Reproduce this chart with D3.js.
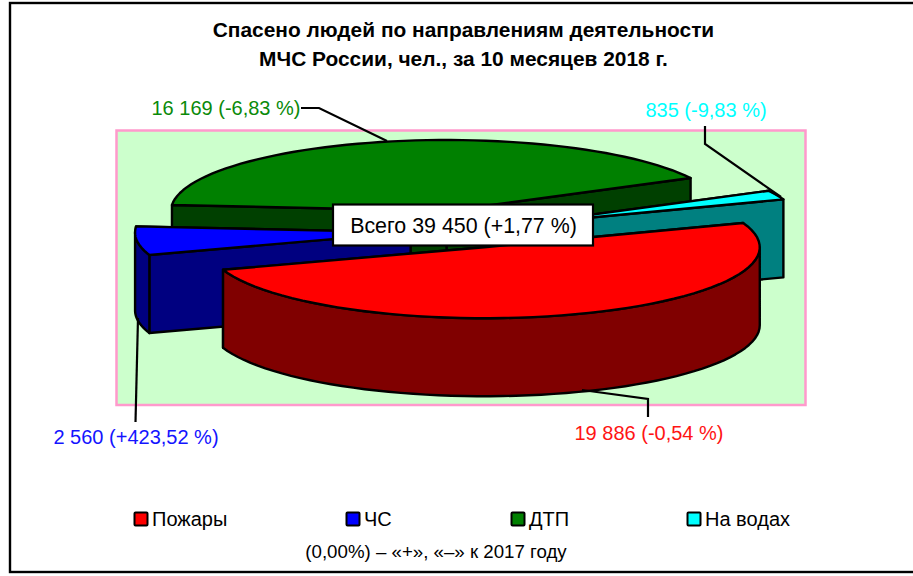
<!DOCTYPE html>
<html><head><meta charset="utf-8">
<script src="https://cdn.jsdelivr.net/npm/d3@7/dist/d3.min.js"></script>
<style>html,body{margin:0;padding:0;background:#fff}svg{display:block}text{font-family:"Liberation Sans",Arial,sans-serif}</style>
</head><body><div id="c"></div>
<script>
const categories=["Пожары","ЧС","ДТП","На водах"];
const values=[19886,2560,16169,835];
const valueLabels=["19 886 (-0,54 %)","2 560 (+423,52 %)","16 169 (-6,83 %)","835 (-9,83 %)"];
const topColors=["#FF0000","#0000FF","#008000","#00FFFF"];
const wallColors=["#800000","#000080","#004000","#008080"];
const explode=[0.245,0.188,0.285,0.248];
const titleLines=["Спасено людей по направлениям деятельности","МЧС России, чел., за 10 месяцев 2018 г."];
const totalLabel="Всего 39 450 (+1,77 %)";
const footnote="(0,00%) – «+», «–» к 2017 году";

const W=913,H=576;
const svg=d3.select("#c").append("svg").attr("width",W).attr("height",H);
svg.append("rect").attr("x",10).attr("y",3).attr("width",W+10).attr("height",569).attr("fill","#fff").attr("stroke","#000").attr("stroke-width",2.4);
svg.append("rect").attr("x",116.5).attr("y",130.5).attr("width",689).attr("height",274.5).attr("fill","#CCFFCC").attr("stroke","#FF99CC").attr("stroke-width",2.5);

const cx0=462,cy0=230.8,rx=275.5,ry=71,depth=78;
const pie=d3.pie().sort(null).startAngle(70*Math.PI/180).endAngle((70+360)*Math.PI/180);
const arcs=pie(values);
const pt=(c,t)=>[c[0]+rx*Math.sin(t),c[1]-ry*Math.cos(t)];
const line=d3.line();
const sample=(a,b)=>d3.range(0,61).map(i=>a+(b-a)*i/60);
const layer=svg.append("g").attr("stroke","#000").attr("stroke-width",2.4).attr("stroke-linejoin","round");

// back to front
[2,3,1,0].forEach(i=>{
  const d=arcs[i],mid=(d.startAngle+d.endAngle)/2,e=explode[i]*rx;
  const c=[cx0+e*Math.sin(mid),cy0-e*Math.cos(mid)*ry/rx];
  const corners=[d.startAngle,d.endAngle].map(t=>pt(c,t)).sort((p,q)=>p[1]-q[1]);
  corners.forEach(p=>{
    layer.append("path").attr("fill",wallColors[i])
      .attr("d",line([c,p,[p[0],p[1]+depth],[c[0],c[1]+depth]])+"Z");
  });
  // rim wall: only the part of the rim that faces the viewer
  const ranges=[[Math.PI/2,3*Math.PI/2],[Math.PI/2+2*Math.PI,3*Math.PI/2+2*Math.PI]];
  ranges.forEach(([lo,hi])=>{
    const a=Math.max(lo,d.startAngle),b=Math.min(hi,d.endAngle);
    if(b>a){
      const ts=sample(a,b);
      const up=ts.map(t=>pt(c,t));
      const dn=ts.slice().reverse().map(t=>{const p=pt(c,t);return [p[0],p[1]+depth];});
      layer.append("path").attr("fill",wallColors[i]).attr("d",line(up.concat(dn))+"Z");
    }
  });
  layer.append("path").attr("fill",topColors[i])
    .attr("d",line([c].concat(sample(d.startAngle,d.endAngle).map(t=>pt(c,t))))+"Z");
});

// leader lines
const leaders=[
 [[648,417],[648,399],[582,390]],
 [[135.5,422],[138,318]],
 [[301,108],[319,108],[387,141]],
 [[705,126],[705,144],[781,197]]
];
svg.append("g").selectAll("path").data(leaders).join("path")
  .attr("d",d=>line(d)).attr("fill","none").attr("stroke","#000").attr("stroke-width",2.2);

// value labels
const labelPos=[[649,440],[136,444],[226,115],[706,117]];
svg.append("g").selectAll("text").data(valueLabels).join("text")
  .attr("x",(d,i)=>labelPos[i][0]).attr("y",(d,i)=>labelPos[i][1])
  .attr("text-anchor","middle").attr("font-size",20)
  .attr("fill",(d,i)=>i==2?"#0A8A0A":(i==1?"#1414FF":(i==0?"#FF1414":topColors[i]))).text(d=>d);

// total box
svg.append("rect").attr("x",333).attr("y",204.5).attr("width",260).attr("height",41).attr("fill","#fff").attr("stroke","#000").attr("stroke-width",2.2);
svg.append("text").attr("x",463.5).attr("y",233).attr("text-anchor","middle").attr("font-size",21.4).attr("fill","#000").text(totalLabel);

// title
svg.append("g").selectAll("text").data(titleLines).join("text")
  .attr("x",463.5).attr("y",(d,i)=>37+i*29).attr("text-anchor","middle").attr("font-weight","bold").attr("font-size",20.9).attr("fill","#000").text(d=>d);

// legend
const legendXs=[134,346,511,687];
const lg=svg.append("g").selectAll("g").data(categories).join("g").attr("transform",(d,i)=>`translate(${legendXs[i]},512)`);
lg.append("rect").attr("x",0.5).attr("y",0.5).attr("width",13).attr("height",13).attr("rx",1).attr("fill",(d,i)=>topColors[i]).attr("stroke","#000").attr("stroke-width",2);
lg.append("text").attr("x",18).attr("y",14).attr("font-size",20).attr("fill","#000").text(d=>d);
svg.append("text").attr("x",436).attr("y",558).attr("text-anchor","middle").attr("font-size",18.7).attr("fill","#000").text(footnote);
</script></body></html>
